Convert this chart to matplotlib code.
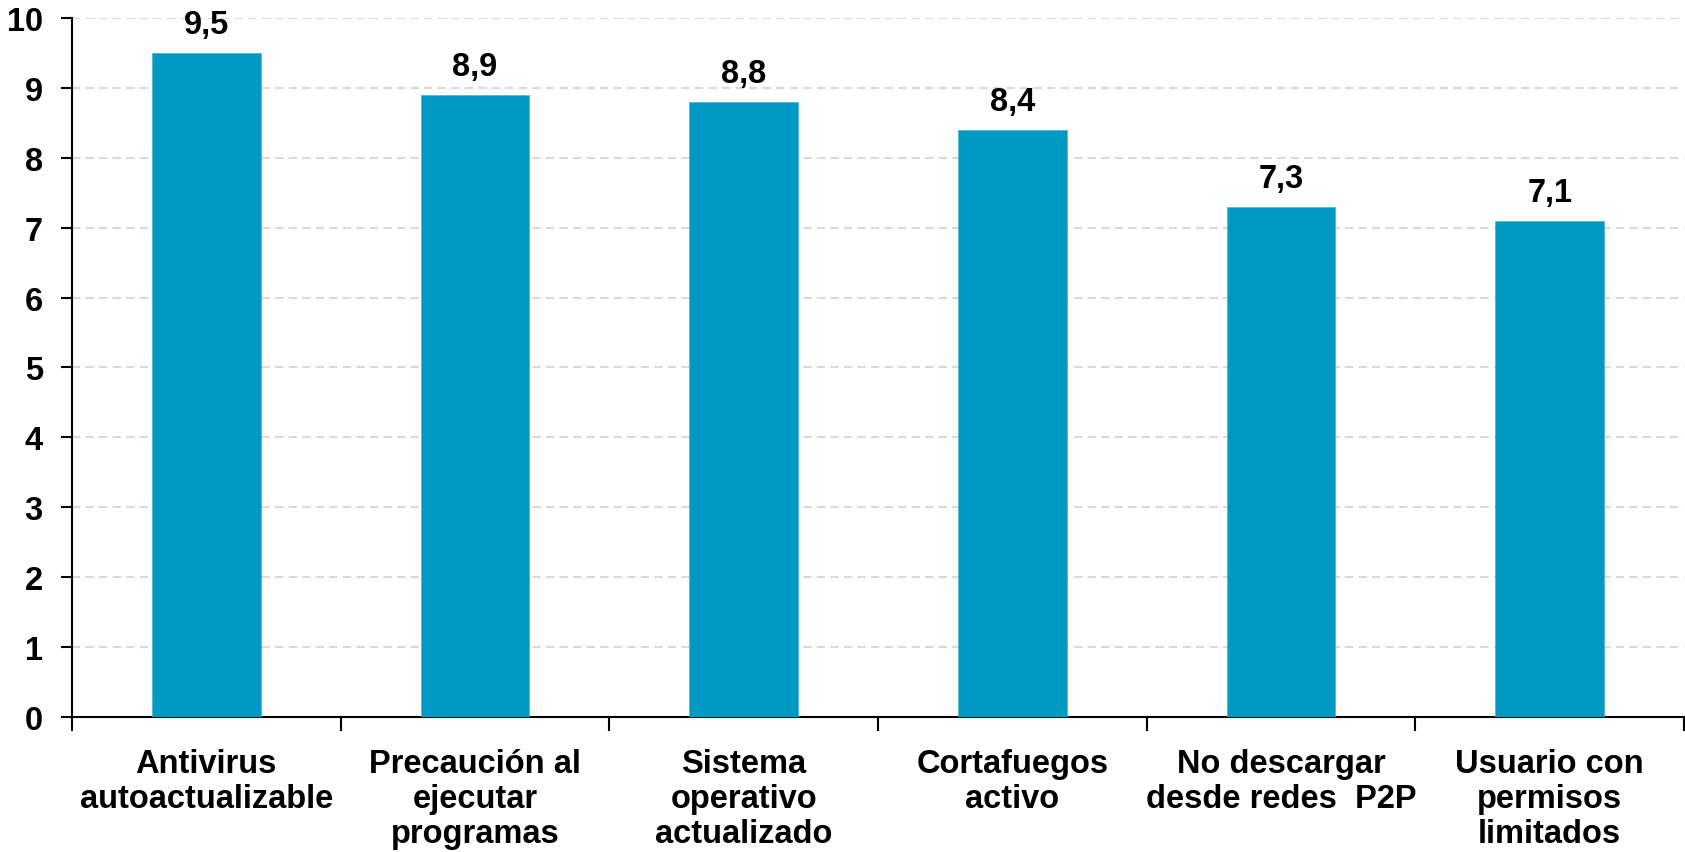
import matplotlib.pyplot as plt
from matplotlib.ticker import MultipleLocator, FixedLocator

categories = ["Antivirus\nautoactualizable", "Precaución al\nejecutar\nprogramas",
              "Sistema\noperativo\nactualizado", "Cortafuegos\nactivo",
              "No descargar\ndesde redes  P2P", "Usuario con\npermisos\nlimitados"]
values = [9.5, 8.9, 8.8, 8.4, 7.3, 7.1]

plt.rcParams['font.family'] = ['Liberation Sans', 'DejaVu Sans']
plt.rcParams['font.weight'] = 'bold'

fig = plt.figure(figsize=(16.85, 8.53), dpi=100)
ax = fig.add_axes([0.0427, 0.1583, 0.9567, 0.8194])

x = list(range(len(values)))
ax.bar(x, values, width=0.405, color='#0099c4', edgecolor='#4db8d8', linewidth=0.6, zorder=3)
for xi, v in zip(x, values):
    ax.annotate(f"{v:.1f}".replace('.', ','), (xi, v), xytext=(0, 9), textcoords='offset points',
                ha='center', va='bottom', fontsize=23.5, fontweight='bold')

ax.set_xlim(-0.5, len(values) - 0.5)
ax.set_ylim(0, 10)
ax.yaxis.set_major_locator(MultipleLocator(1))
ax.grid(axis='y', color='#d9d9d9', linestyle=(0, (4, 2.5)), linewidth=1.5, zorder=0)

# category names sit between the boundary ticks
ax.xaxis.set_major_locator(FixedLocator([i + 0.5 for i in range(-1, len(values))]))
ax.xaxis.set_major_formatter(plt.NullFormatter())
ax.xaxis.set_minor_locator(FixedLocator(x))
ax.set_xticklabels(categories, minor=True, fontsize=23.5, fontweight='bold', linespacing=1.18)
ax.tick_params(axis='x', which='minor', length=0, pad=22)
ax.tick_params(axis='x', which='major', direction='out', length=10, width=1.5)
ax.tick_params(axis='y', direction='out', length=8, width=1.5, labelsize=23.5, pad=13)
for lbl in ax.get_yticklabels():
    lbl.set_fontweight('bold')

for side in ('top', 'right'):
    ax.spines[side].set_visible(False)
for side in ('left', 'bottom'):
    ax.spines[side].set_linewidth(1.5)
ax.spines['left'].set_zorder(4)

fig.savefig('out.png', dpi=100)
